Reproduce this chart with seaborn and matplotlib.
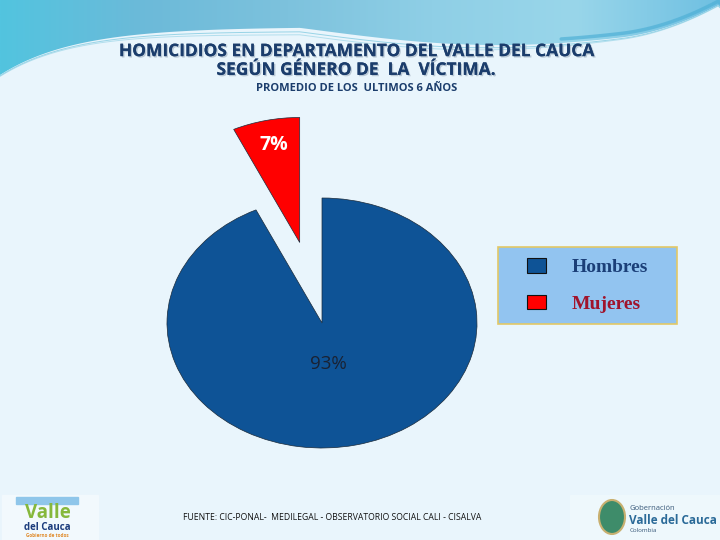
import numpy as np
import matplotlib
matplotlib.use("Agg")
import matplotlib.pyplot as plt
import matplotlib.patheffects as pe
from matplotlib.patches import Rectangle, Ellipse
import seaborn as sns

genero = ["Hombres", "Mujeres"]
porcentaje = [93, 7]
etiquetas = ["93%", "7%"]
colores = ["#0e5396", "#ff0000"]
color_texto_leyenda = ["#1b3f78", "#a0142c"]

titulo = "HOMICIDIOS EN DEPARTAMENTO DEL VALLE DEL CAUCA\nSEGÚN GÉNERO DE  LA  VÍCTIMA."
subtitulo = "PROMEDIO DE LOS  ULTIMOS 6 AÑOS"
fuente = "FUENTE: CIC-PONAL-  MEDILEGAL - OBSERVATORIO SOCIAL CALI - CISALVA"

sns.set_theme(style="white")
plt.rcParams['font.family'] = ['Open Sans', 'DejaVu Sans']

fig = plt.figure(figsize=(7.2, 5.4), dpi=100)
fig.patch.set_facecolor("#e9f5fc")

# fondo con onda superior (decorativo)
bg = fig.add_axes([0, 0, 1, 1], zorder=0)
bg.set_xlim(0, 720)
bg.set_ylim(540, 0)
bg.axis("off")
xs = np.linspace(0, 720, 400)
onda = (27 + 48 * np.exp(-xs / 75)
        + 18 * np.sin(np.pi * (xs - 300) / 400) * ((xs > 300) & (xs < 720))
        - 20 * np.clip((xs - 620) / 100, 0, 1) ** 2)
grad = np.linspace(0, 1, 256).reshape(1, -1)
cmap = matplotlib.colors.LinearSegmentedColormap.from_list(
    "onda", ["#52c4df", "#6cbad9", "#7dc2dd", "#8fcfe6", "#99d6ea", "#6fc0e2"])
im = bg.imshow(grad, extent=[0, 720, 90, 0], cmap=cmap, aspect="auto", zorder=0)
clip = bg.fill_between(xs, -5, onda, color="none")
im.set_clip_path(clip.get_paths()[0], transform=bg.transData)
# lineas finas
for k, a in [(4, 0.9), (7, 0.6)]:
    bg.plot(xs, onda + k * np.exp(-((xs - 330) / 260) ** 2), color="#8fd0e4", lw=0.7, alpha=a, zorder=2)
bg.plot(xs[xs > 560], onda[xs > 560] - 4, color="#4fb0d6", lw=2.5, alpha=0.7, zorder=2)

# logos (aproximados)
bg.add_patch(Rectangle((2, 495), 96, 45, color="#f2f9fd", zorder=1))
bg.add_patch(Rectangle((16, 497), 62, 7, color="#8fc6ea", zorder=2))
bg.text(48, 513, "Valle", ha="center", va="center", fontsize=13.5, fontweight="bold",
        color="#86b83c", zorder=3)
bg.text(47, 527.5, "del Cauca", ha="center", va="center", fontsize=7, fontweight="bold",
        color="#1c3c7c", zorder=3)
bg.text(47, 535.5, "Gobierno de todos", ha="center", va="center", fontsize=3.3, fontweight="bold",
        color="#e08a2a", zorder=3)
bg.add_patch(Rectangle((570, 495), 150, 45, color="#eef8fc", zorder=1))
bg.add_patch(Ellipse((612, 517), 26, 34, facecolor="#3e8c6a", edgecolor="#c8b070", lw=1.5, zorder=2))
bg.text(630, 509, "Gobernación", ha="left", va="center", fontsize=5.5, color="#3a5a7a", zorder=3)
bg.text(629, 520, "Valle del Cauca", ha="left", va="center", fontsize=8.5, fontweight="bold",
        color="#2a6a98", zorder=3)
bg.text(630, 531, "Colombia", ha="left", va="center", fontsize=4.5, color="#3a5a7a", zorder=3)

# pastel (elipse: aspecto libre)
ax = fig.add_axes([0, 0, 1, 1], zorder=2)
cx, cy, rx, ry = 322, 323, 155, 125
wedges, _ = ax.pie(porcentaje, colors=colores, startangle=90, counterclock=False,
                   explode=[0, 0.66], radius=1, normalize=True,
                   wedgeprops=dict(linewidth=0.5, edgecolor="#1a2a3a"))
ax.set_aspect("auto")
ax.set_xlim(-cx / rx, (720 - cx) / rx)
ax.set_ylim((cy - 540) / ry, cy / ry)
ax.axis("off")

# etiquetas de porcentaje
dist = [0.34, 0.8]
dx = [-0.03, 0.01]
estilo = [dict(color="#1a2233", fontsize=13.5, fontweight="normal"),
          dict(color="white", fontsize=14, fontweight="bold")]
for w, lab, d, o, st in zip(wedges, etiquetas, dist, dx, estilo):
    ang = np.deg2rad((w.theta1 + w.theta2) / 2)
    ox, oy = w.center
    ax.text(ox + d * np.cos(ang) + o, oy + d * np.sin(ang),
            lab, ha="center", va="center", **st)

# caja de la leyenda
fig.patches.append(Rectangle((0.6917, 0.40), 0.2486, 0.1426, transform=fig.transFigure,
                             facecolor="#92c4f0", edgecolor="#e2c866", lw=1.2, zorder=4))
leg = fig.legend(wedges, genero, loc="center", bbox_to_anchor=(0.816, 0.4713),
                 frameon=False, handlelength=0.95, handleheight=0.78,
                 handletextpad=1.3, labelspacing=0.95, borderpad=0, borderaxespad=0,
                 prop=dict(family="Liberation Serif", size=14))
for h in leg.legend_handles:
    h.set_edgecolor("#111111")
    h.set_linewidth(0.8)
for t, c in zip(leg.get_texts(), color_texto_leyenda):
    t.set_color(c)
    t.set_fontweight("bold")
leg.set_zorder(5)

# textos
sombra = [pe.withSimplePatchShadow(offset=(1, -1), shadow_rgbFace="#99aabb", alpha=0.6), pe.Normal()]
fig.text(0.494, 0.888, titulo, ha="center", va="center", fontsize=12.5, fontweight="bold",
         color="#1b3d6c", linespacing=1.05, path_effects=sombra, zorder=6)
fig.text(0.496, 0.837, subtitulo, ha="center", va="center", fontsize=8, fontweight="bold",
         color="#1b3d6c", zorder=6)
fig.text(0.461, 0.042, fuente, ha="center", va="center", fontsize=6.2,
         color="#111111", zorder=6)

fig.savefig("out.png", dpi=100, facecolor=fig.get_facecolor())
